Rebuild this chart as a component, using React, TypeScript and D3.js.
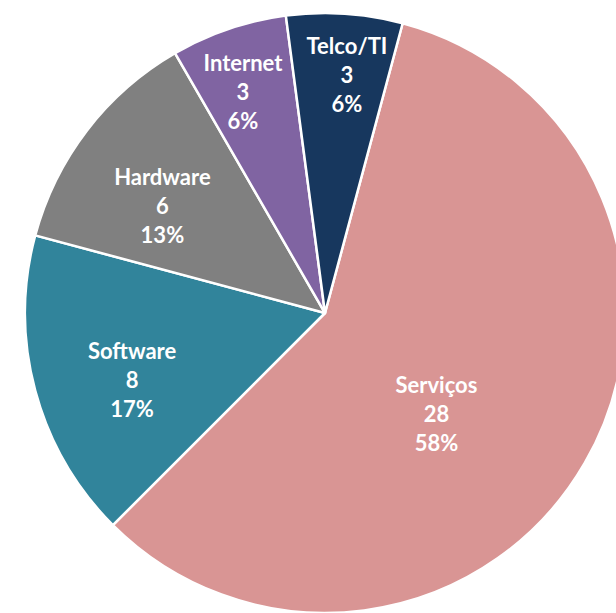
import React from "react";
import * as d3 from "d3";

// chart data
const categories = ["Serviços", "Software", "Hardware", "Internet", "Telco/TI"];
const counts = [28, 8, 6, 3, 3];
const colors = ["#D99594", "#31849B", "#808080", "#8064A2", "#17375E"];

// label placement tweaks (radius factor, angle shift in degrees), Excel "best fit" style
const labelPlacement = [
    { k: 0.5, shift: 12 },
    { k: 0.68, shift: -4 },
    { k: 0.65, shift: -4 },
    { k: 0.79, shift: -1.5 },
    { k: 0.8, shift: 1.5 },
];

export default function App() {
    const ref = React.useRef<HTMLDivElement>(null);

    React.useEffect(() => {
        d3.select(ref.current).select("svg").remove();
        drawChart();
    }, []);

    function drawChart() {
        const width = 616;
        const height = 613;
        const cx = 325;
        const cy = 313;
        const radius = 300;
        const total = d3.sum(counts);

        const svg = d3
            .select(ref.current)
            .append("svg")
            .attr("width", width)
            .attr("height", height)
            .style("position", "absolute")
            .style("left", "0px")
            .style("top", "0px");

        const g = svg.append("g").attr("transform", `translate(${cx},${cy})`);

        const start = (15 * Math.PI) / 180;
        const pie = d3
            .pie<number>()
            .sort(null)
            .startAngle(start)
            .endAngle(start + 2 * Math.PI)
            .value((d) => d);

        const arcs = pie(counts);
        const arc = d3.arc<d3.PieArcDatum<number>>().innerRadius(0).outerRadius(radius);

        g.selectAll("path.slice")
            .data(arcs)
            .enter()
            .append("path")
            .attr("class", "slice")
            .attr("d", arc)
            .attr("fill", (d, i) => colors[i])
            .attr("stroke", "#fff")
            .attr("stroke-width", 2.5)
            .attr("stroke-linejoin", "round");

        const labels = g
            .selectAll("text.label")
            .data(arcs)
            .enter()
            .append("text")
            .attr("class", "label")
            .attr("transform", (d, i) => {
                const p = labelPlacement[i];
                const a = (d.startAngle + d.endAngle) / 2 + (p.shift * Math.PI) / 180;
                const r = radius * p.k;
                return `translate(${r * Math.sin(a)},${-r * Math.cos(a) + 1})`;
            })
            .attr("text-anchor", "middle")
            .attr("fill", "#fff")
            .style("font-family", "Lato, 'Open Sans', sans-serif")
            .style("font-weight", "bold")
            .style("font-size", "22px");

        labels
            .append("tspan")
            .attr("x", 0)
            .attr("y", -21)
            .text((d, i) => categories[i]);
        labels
            .append("tspan")
            .attr("x", 0)
            .attr("y", 8)
            .text((d) => d.data);
        labels
            .append("tspan")
            .attr("x", 0)
            .attr("y", 37)
            .text((d) => `${Math.round((d.data / total) * 100)}%`);
    }

    return <div ref={ref} />;
}
